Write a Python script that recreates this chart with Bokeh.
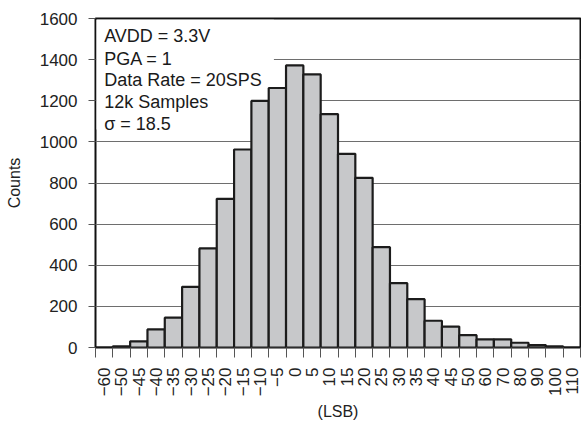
from bokeh.plotting import figure
from bokeh.models import FixedTicker, Range1d, Label, BoxAnnotation
from bokeh.embed import file_html
from bokeh.resources import INLINE

# bin labels (LSB) and counts
bin_labels = ["−60", "−50", "−45", "−40", "−35", "−30", "−25", "−20", "−15", "−10",
              "−5", "0", "5", "10", "15", "20", "25", "30", "35", "40", "45", "50",
              "60", "70", "80", "90", "100", "110"]
counts = [0, 6, 30, 88, 145, 295, 482, 723, 963, 1199, 1262, 1372, 1328, 1135, 942,
          825, 488, 313, 235, 130, 102, 60, 40, 40, 23, 12, 5, 0]
y_ticks = [0, 200, 400, 600, 800, 1000, 1200, 1400, 1600]
notes = ["AVDD = 3.3V", "PGA = 1", "Data Rate = 20SPS", "12k Samples", "σ = 18.5"]

FONT = "Liberation Sans"
n = len(bin_labels)
centers = [i + 0.5 for i in range(n)]
edges = list(range(n + 1))

p = figure(width=581, height=423, output_backend="svg", toolbar_location=None,
           x_range=Range1d(0, n), y_range=Range1d(0, 1600),
           min_border_left=95, min_border_right=1, min_border_top=18,
           min_border_bottom=76)

p.outline_line_color = "#111111"
p.outline_line_width = 2

# grid
p.xgrid.visible = False
p.ygrid.ticker = FixedTicker(ticks=y_ticks[1:-1])
p.ygrid.grid_line_color = "#6e6e6e"
p.ygrid.grid_line_width = 1

# white box behind the notes (covers grid lines, not the frame)
box = BoxAnnotation(left=0.06, right=10.3, bottom=1060, top=1594,
                    fill_color="white", fill_alpha=1.0, line_color=None,
                    level="underlay")
p.add_layout(box)

p.vbar(x=centers, top=counts, width=1.0, bottom=0,
       fill_color="#c7c8ca", line_color="#1c1c1c", line_width=2.2)

# x axis: labels at bin centres, tick marks at bin edges
xa = p.xaxis[0]
xa.ticker = FixedTicker(ticks=centers, minor_ticks=edges)
xa.major_label_overrides = {c: lab for c, lab in zip(centers, bin_labels)}
xa.major_tick_out = 0
xa.major_tick_in = 0
xa.minor_tick_out = 10
xa.minor_tick_in = 0
xa.minor_tick_line_color = "#555555"
xa.minor_tick_line_width = 1
xa.axis_line_color = None
xa.major_label_orientation = 1.5708
xa.major_label_standoff = 10
xa.major_label_text_font = FONT
xa.major_label_text_font_size = "17px"
xa.major_label_text_color = "#222222"
xa.axis_label = "(LSB)"
xa.axis_label_text_font = FONT
xa.axis_label_text_font_size = "16px"
xa.axis_label_text_font_style = "normal"
xa.axis_label_text_color = "#222222"
xa.axis_label_standoff = 4

ya = p.yaxis[0]
ya.ticker = FixedTicker(ticks=y_ticks)
ya.major_tick_out = 7
ya.major_tick_in = 0
ya.major_tick_line_color = "#555555"
ya.minor_tick_out = 0
ya.minor_tick_in = 0
ya.axis_line_color = None
ya.major_label_standoff = 11
ya.major_label_text_font = FONT
ya.major_label_text_font_size = "17px"
ya.major_label_text_color = "#222222"
ya.axis_label = "Counts"
ya.axis_label_text_font = FONT
ya.axis_label_text_font_size = "16px"
ya.axis_label_text_font_style = "normal"
ya.axis_label_text_color = "#222222"
ya.axis_label_standoff = 14

note_y = [1513, 1401, 1299, 1192, 1085]
for txt, yy in zip(notes, note_y):
    p.add_layout(Label(x=0.5, y=yy, text=txt, text_font=FONT, text_font_size="18px",
                       text_baseline="middle", text_align="left", text_color="#1a1a1a"))

open("out.html", "w").write(file_html(p, INLINE))
